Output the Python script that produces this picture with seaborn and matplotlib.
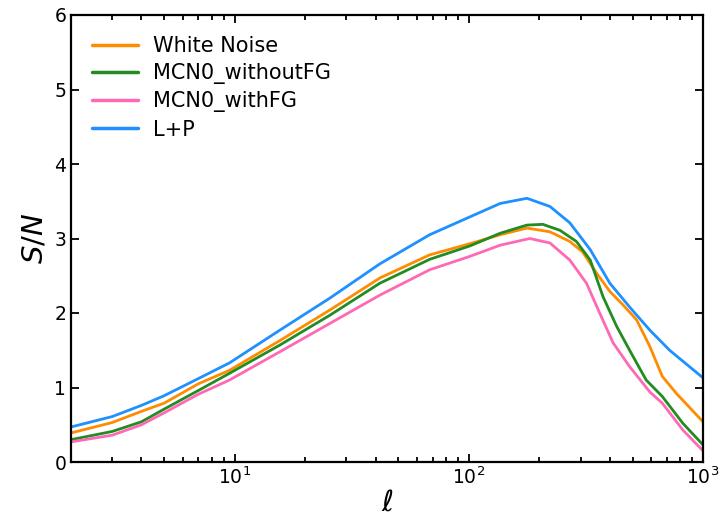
import numpy as np
import pandas as pd
import matplotlib
matplotlib.use("Agg")
import matplotlib.pyplot as plt
import seaborn as sns
from matplotlib.ticker import LogLocator, NullFormatter, MultipleLocator

# ---- data ----
ell_wn = [2, 3, 4, 5, 7, 9.5, 15.6, 25.5, 41.7, 68, 101, 136, 177, 222, 270, 306, 352, 400, 455, 520, 593, 670, 770, 1000]
sn_wn = [0.39, 0.53, 0.68, 0.79, 1.05, 1.23, 1.63, 2.04, 2.47, 2.78, 2.93, 3.05, 3.14, 3.09, 2.96, 2.82, 2.53, 2.29, 2.11, 1.91, 1.55, 1.15, 0.92, 0.54]

ell_nofg = [2, 3, 4, 5, 7, 9.5, 15.6, 25.5, 41.7, 68, 101, 136, 177, 207, 245, 288, 330, 374, 428, 486, 572, 670, 820, 1000]
sn_nofg = [0.30, 0.41, 0.54, 0.71, 0.96, 1.19, 1.57, 1.97, 2.40, 2.72, 2.90, 3.07, 3.18, 3.19, 3.11, 2.96, 2.71, 2.22, 1.82, 1.50, 1.10, 0.88, 0.52, 0.23]

ell_fg = [2, 3, 4, 5, 7, 9.5, 15.6, 25.5, 41.7, 68, 101, 136, 182, 222, 270, 318, 362, 413, 486, 593, 670, 820, 1000]
sn_fg = [0.27, 0.36, 0.50, 0.66, 0.91, 1.10, 1.48, 1.86, 2.24, 2.58, 2.76, 2.91, 3.00, 2.94, 2.71, 2.40, 2.00, 1.60, 1.28, 0.94, 0.79, 0.43, 0.15]

ell_lp = [2, 3, 4, 5, 7, 9.5, 15.6, 25.5, 41.7, 68, 101, 136, 177, 222, 270, 330, 400, 486, 593, 720, 1000]
sn_lp = [0.47, 0.61, 0.76, 0.89, 1.12, 1.33, 1.77, 2.20, 2.66, 3.05, 3.29, 3.47, 3.54, 3.43, 3.21, 2.85, 2.40, 2.08, 1.77, 1.50, 1.13]

labels = ["White Noise", "MCN0_withoutFG", "MCN0_withFG", "L+P"]
colors = ["darkorange", "forestgreen", "hotpink", "dodgerblue"]

frames = []
for lab, x, y in zip(labels, [ell_wn, ell_nofg, ell_fg, ell_lp], [sn_wn, sn_nofg, sn_fg, sn_lp]):
    frames.append(pd.DataFrame({"ell": x, "sn": y, "series": lab}))
df = pd.concat(frames, ignore_index=True)

sns.set_style("ticks")
plt.rcParams["font.family"] = ["DejaVu Sans"]
plt.rcParams["mathtext.fontset"] = "dejavusans"
for k in ["text.color", "axes.labelcolor", "xtick.color", "ytick.color", "axes.edgecolor"]:
    plt.rcParams[k] = "black"

fig = plt.figure(figsize=(7.22, 5.19), dpi=100)
ax = fig.add_axes([71 / 722, 1 - 462 / 519, (703 - 71) / 722, (462 - 15) / 519])

sns.lineplot(data=df, x="ell", y="sn", hue="series", hue_order=labels,
             palette=dict(zip(labels, colors)), estimator=None, sort=True,
             linewidth=2.0, ax=ax)

ax.set_xscale("log")
ax.set_xlim(2, 1000)
ax.set_ylim(0, 6)
ax.yaxis.set_major_locator(MultipleLocator(1))
ax.xaxis.set_major_locator(LogLocator(base=10, numticks=10))
ax.xaxis.set_minor_locator(LogLocator(base=10, subs=np.arange(2, 10), numticks=20))
ax.xaxis.set_minor_formatter(NullFormatter())

ax.tick_params(which="both", direction="in", top=True, right=True, labelsize=13.5,
               width=1.3, colors="black")
ax.tick_params(which="major", length=6)
ax.tick_params(which="minor", length=3.5)
for s in ax.spines.values():
    s.set_linewidth(1.6)
    s.set_color("black")

ax.set_xlabel(r"$\ell$", fontsize=21, labelpad=0, color="black")
ax.set_ylabel(r"$S/N$", fontsize=21, color="black")

leg = ax.legend(loc="upper left", frameon=False, fontsize=15, handlelength=2.2,
                handletextpad=0.75, labelspacing=0.35, borderaxespad=0.6)
for line in leg.get_lines():
    line.set_linewidth(2.5)
for t in leg.get_texts():
    t.set_color("black")

fig.savefig("out.png", dpi=100)
